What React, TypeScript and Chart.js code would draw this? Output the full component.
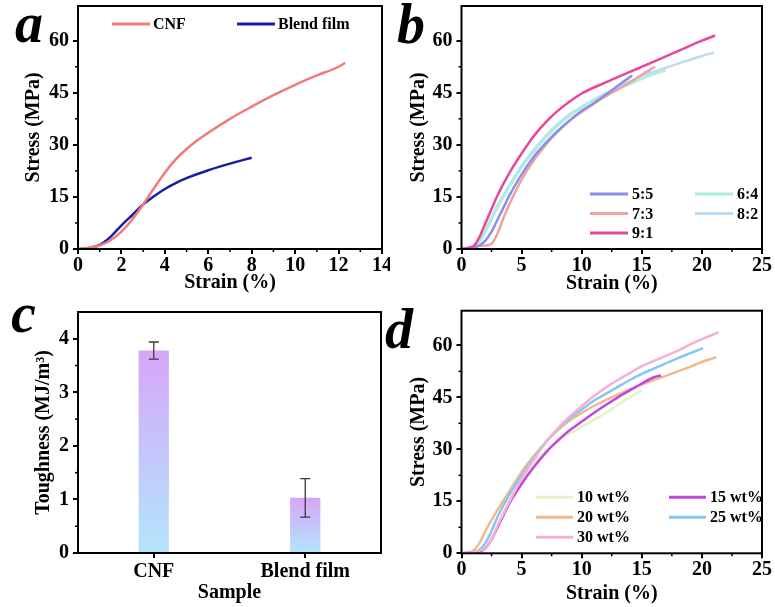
import React, { useEffect, useRef } from "react";
import { Chart, registerables } from "chart.js";

Chart.register(...registerables);

// ---------- DATA ----------
// Panel a: stress-strain (strain %, stress MPa)
const cnfCurve = [[0,0],[0.5,0.4],[1,1],[1.5,2.5],[2,5],[2.5,8.5],[3,12.8],[3.5,17.5],[4,22],[4.5,25.8],[5,28.8],[5.5,31.3],[6,33.5],[7,37.5],[8,41],[9,44.3],[10,47.3],[11,50],[12,52.5],[12.3,53.6]];
const blendCurve = [[0,0],[0.5,0.3],[1,1.2],[1.5,3.5],[2,6.8],[2.5,9.8],[3,12.8],[3.5,15.2],[4,17.3],[4.5,19],[5,20.4],[5.5,21.6],[6,22.7],[7,24.6],[8,26.3]];
const aLabels = ["CNF", "Blend film"];
const aXTicks = [0, 2, 4, 6, 8, 10, 12, 14];
const stressTicks = [0, 15, 30, 45, 60];

// Panel b: ratios
const bLabels = ["5:5", "6:4", "7:3", "8:2", "9:1"];
const r55 = [[0,0],[1,0.3],[1.5,1],[2,2.5],[2.5,5],[3,8.5],[3.5,12],[4,15.5],[5,21.5],[6,26.5],[7,30.5],[8,34],[9,37],[10,39.8],[11,42],[12,44.5],[13,47],[14.2,50]];
const r64 = [[0,0],[1,0.5],[1.5,2],[2,5],[2.5,8.5],[3,12],[4,18],[5,23.5],[6,28],[7,32],[8,35.5],[9,38.3],[10,40.8],[11,42.8],[12,44.5],[13,46],[14,47.5],[15,49],[16,50.3],[17,51.5]];
const r73 = [[0,0],[0.5,0.3],[1,0.8],[2,1],[2.5,1.5],[3,4.5],[3.5,9],[4,13],[5,20],[6,25.5],[7,30],[8,33.8],[9,37],[10,39.5],[11,41.8],[12,44],[13,46],[14,48],[15,50.2],[16.1,52.5]];
const r82 = [[0,0],[1,0.5],[1.5,2.5],[2,5.5],[2.5,9],[3,12.5],[4,18.5],[5,24],[6,28.5],[7,32.5],[8,36],[9,38.8],[10,41],[11,43],[12,44.8],[13,46.5],[14,48.2],[15,49.8],[16,51],[17,52.2],[18,53.4],[19,54.5],[20,55.6],[21,56.6]];
const r91 = [[0,0],[0.5,0.3],[1,0.8],[1.5,3.5],[2,7.5],[2.5,11.5],[3,15.5],[4,22],[5,27.5],[6,32.5],[7,36.5],[8,39.8],[9,42.5],[10,44.8],[12,48],[14,51],[16,54],[18,57],[20,60],[21.1,61.5]];
const strainTicks25 = [0, 5, 10, 15, 20, 25];

// Panel c: toughness
const cCategories = ["CNF", "Blend film"];
const toughness = [3.78, 1.03];
const toughnessErr = [0.16, 0.36];
const toughTicks = [0, 1, 2, 3, 4];

// Panel d: wt%
const dLabels = ["10 wt%", "15 wt%", "20 wt%", "25 wt%", "30 wt%"];
const w10 = [[0,0],[1,0.2],[2,1.5],[2.5,4],[3,8],[4,15],[5,21],[6,26],[7,29.5],[8,32.2],[9,34.5],[10,36.5],[11,38.5],[12,40.5],[13,42.8],[14,45],[15,47]];
const w15 = [[0,0],[1,0.2],[1.5,0.5],[2,1.5],[2.5,4],[3,7.5],[3.5,11],[4,14.5],[5,20],[6,24.8],[7,29],[8,32.5],[9,35.5],[10,38],[11,40.5],[12,42.8],[13,45],[14,47],[15,49],[16,50.8],[16.6,51.3]];
const w20 = [[0,0],[0.5,0.2],[1,0.8],[1.5,3],[2,6.5],[3,12.5],[4,18],[5,23.5],[6,28],[7,32],[8,35.5],[9,38.3],[10,40.5],[11,42.5],[12,44.2],[13,45.8],[14,47.3],[15,48.7],[16,50],[17,51.2],[18,52.5],[19,53.8],[20,55.2],[21.2,56.6]];
const w25 = [[0,0],[1,0.3],[1.5,1],[2,3],[2.5,6.5],[3,10.5],[4,17],[5,22.5],[6,27.5],[7,32],[8,35.8],[9,39],[10,41.5],[11,44],[12,46],[13,48],[14,50],[15,51.8],[16,53.3],[17,54.8],[18,56.3],[19,57.7],[20.1,59.2]];
const w30 = [[0,0],[1,0.3],[1.5,0.8],[2,1.5],[2.5,4],[3,8],[3.5,11.5],[4,15],[5,21.5],[6,27],[7,31.8],[8,36],[9,39.5],[10,42.5],[11,45.3],[12,47.8],[13,50],[14,52],[15,54],[16,55.5],[17,57],[18,58.5],[19,60.2],[20,61.8],[21.4,63.8]];

// ---------- STYLE ----------
const FONT = '"Liberation Serif", "Times New Roman", serif';
const tickFont = { family: FONT, size: 20, weight: "bold" as const };
const titleFont = { family: FONT, size: 20, weight: "bold" as const };

const toXY = (arr: number[][]) => arr.map(([x, y]) => ({ x, y }));

const framePlugin = {
  id: "frame",
  afterDraw(chart: any) {
    const { ctx, chartArea: a } = chart;
    ctx.save();
    ctx.strokeStyle = "#000";
    ctx.lineWidth = 2;
    ctx.strokeRect(a.left, a.top, a.right - a.left, a.bottom - a.top);
    ctx.restore();
  },
};

const minorPlugin = {
  id: "minorTicks",
  afterDraw(chart: any, _args: any, opts: any) {
    const { ctx, chartArea: a, scales } = chart;
    ctx.save();
    ctx.strokeStyle = "#000";
    ctx.lineWidth = 1.5;
    const mids = (t: number[]) => t.slice(1).map((v, i) => (v + t[i]) / 2);
    if (opts.y) {
      mids(opts.y).forEach((v: number) => {
        const p = scales.y.getPixelForValue(v);
        ctx.beginPath();
        ctx.moveTo(a.left, p);
        ctx.lineTo(a.left - 3, p);
        ctx.stroke();
      });
    }
    if (opts.x) {
      mids(opts.x).forEach((v: number) => {
        const p = scales.x.getPixelForValue(v);
        ctx.beginPath();
        ctx.moveTo(p, a.bottom);
        ctx.lineTo(p, a.bottom + 3);
        ctx.stroke();
      });
    }
    ctx.restore();
  },
};

// Legend drawn inside the plot, in the given label order
const legendPlugin = {
  id: "boxLegend",
  afterDraw(chart: any, _args: any, opts: any) {
    if (!opts || !opts.cols) return;
    const ctx = chart.ctx;
    ctx.save();
    ctx.font = `bold 16px ${FONT}`;
    ctx.textBaseline = "middle";
    ctx.textAlign = "left";
    const order: string[] = opts.order || chart.data.datasets.map((d: any) => d.label);
    order.forEach((lab: string, i: number) => {
      const ds = chart.data.datasets.find((d: any) => d.label === lab);
      if (!ds) return;
      const col = i % opts.cols;
      const row = Math.floor(i / opts.cols);
      const x = opts.x + col * opts.colWidth;
      const y = opts.y + row * opts.rowHeight;
      ctx.strokeStyle = ds.borderColor;
      ctx.lineWidth = 3;
      ctx.beginPath();
      ctx.moveTo(x, y);
      ctx.lineTo(x + opts.lineLen, y);
      ctx.stroke();
      ctx.fillStyle = "#000";
      ctx.fillText(lab, x + opts.lineLen + opts.gap, y + 1);
    });
    ctx.restore();
  },
};

const errPlugin = {
  id: "errBars",
  afterDatasetsDraw(chart: any, _args: any, opts: any) {
    if (!opts || !opts.err) return;
    const { ctx, scales } = chart;
    const meta = chart.getDatasetMeta(0);
    const vals = chart.data.datasets[0].data;
    ctx.save();
    ctx.strokeStyle = "#3a3a3a";
    ctx.lineWidth = 1.3;
    meta.data.forEach((bar: any, i: number) => {
      const x = bar.x;
      const hi = scales.y.getPixelForValue(vals[i] + opts.err[i]);
      const lo = scales.y.getPixelForValue(vals[i] - opts.err[i]);
      ctx.beginPath();
      ctx.moveTo(x, hi); ctx.lineTo(x, lo);
      ctx.moveTo(x - 5, hi); ctx.lineTo(x + 5, hi);
      ctx.moveTo(x - 5, lo); ctx.lineTo(x + 5, lo);
      ctx.stroke();
    });
    ctx.restore();
  },
};

function yScale(ticks: number[], max: number, width: number, titleText: string, titlePad: number) {
  return {
    type: "linear" as const,
    min: 0,
    max,
    afterBuildTicks: (s: any) => { s.ticks = ticks.map((v) => ({ value: v })); },
    afterFit: (s: any) => { s.width = width; s.paddingTop = 0; s.paddingBottom = 0; },
    border: { display: false },
    grid: { display: true, drawOnChartArea: false, drawTicks: true, tickLength: 5, color: "#000", lineWidth: 2 },
    ticks: { font: tickFont, color: "#000", padding: 4 },
    title: { display: true, text: titleText, font: titleFont, color: "#000", padding: { top: titlePad, bottom: 0 } },
  };
}

function xLinear(ticks: number[], max: number, height: number, titlePad: number) {
  return {
    type: "linear" as const,
    min: 0,
    max,
    afterBuildTicks: (s: any) => { s.ticks = ticks.map((v) => ({ value: v })); },
    afterFit: (s: any) => { s.height = height; s.paddingLeft = 0; s.paddingRight = 0; },
    border: { display: false },
    grid: { display: true, drawOnChartArea: false, drawTicks: true, tickLength: 5, color: "#000", lineWidth: 2 },
    ticks: { font: tickFont, color: "#000", padding: 0, maxRotation: 0 },
    title: { display: true, text: "Strain (%)", font: titleFont, color: "#000", padding: { top: 0, bottom: titlePad } },
  };
}

function lineDs(label: string, arr: number[][], color: string, width = 2.5) {
  return {
    label,
    data: toXY(arr),
    borderColor: color,
    backgroundColor: color,
    borderWidth: width,
    pointRadius: 0,
    cubicInterpolationMode: "monotone" as const,
    fill: false,
  };
}

const baseOpts = {
  animation: false,
  responsive: true,
  maintainAspectRatio: false,
  events: [],
};

function Panel({ left, top, width, height, config }: any) {
  const ref = useRef<HTMLCanvasElement>(null);
  useEffect(() => {
    if (!ref.current) return;
    const chart = new Chart(ref.current, config());
    return () => chart.destroy();
  }, []);
  return (
    <div style={{ position: "absolute", left, top, width, height }}>
      <canvas ref={ref} />
    </div>
  );
}

const configA = () => ({
  type: "line",
  data: {
    datasets: [
      lineDs(aLabels[0], cnfCurve, "#f07b7b"),
      lineDs(aLabels[1], blendCurve, "#1c1ca6"),
    ],
  },
  options: {
    ...baseOpts,
    layout: { padding: { left: 0, top: 6, right: 8, bottom: 0 } },
    scales: {
      x: xLinear(aXTicks, 14, 51, 5),
      y: yScale(stressTicks, 70, 78, "Stress (MPa)", 22),
    },
    plugins: {
      legend: { display: false },
      tooltip: { enabled: false },
      minorTicks: { x: aXTicks, y: stressTicks },
      boxLegend: { cols: 2, x: 112, y: 24, colWidth: 125, rowHeight: 20, lineLen: 38, gap: 3 },
    },
  },
  plugins: [framePlugin, minorPlugin, legendPlugin],
});

const configB = () => ({
  type: "line",
  data: {
    datasets: [
      lineDs(bLabels[4], r91, "#e8489c"),
      lineDs(bLabels[0], r55, "#8a90ea"),
      lineDs(bLabels[2], r73, "#f2a0a0"),
      lineDs(bLabels[1], r64, "#aaf0dc"),
      lineDs(bLabels[3], r82, "#bcdcf2"),
    ],
  },
  options: {
    ...baseOpts,
    layout: { padding: { left: 0, top: 6, right: 13, bottom: 0 } },
    scales: {
      x: xLinear(strainTicks25, 25, 51, 4),
      y: yScale(stressTicks, 70, 71.5, "Stress (MPa)", 16.5),
    },
    plugins: {
      legend: { display: false },
      tooltip: { enabled: false },
      minorTicks: { x: strainTicks25, y: stressTicks },
      boxLegend: { cols: 2, x: 200, y: 194, colWidth: 105, rowHeight: 19.5, lineLen: 38, gap: 4, order: bLabels },
    },
  },
  plugins: [framePlugin, minorPlugin, legendPlugin],
});

const configC = () => ({
  type: "bar",
  data: {
    labels: cCategories,
    datasets: [
      {
        label: "Toughness",
        data: toughness,
        barPercentage: 0.2,
        categoryPercentage: 1,
        borderWidth: 0,
        backgroundColor: (ctx: any) => {
          const chart = ctx.chart;
          const { chartArea, scales } = chart;
          if (!chartArea || ctx.type !== "data" || !scales.y) return "#c8c0fa";
          const t = scales.y.getPixelForValue(ctx.parsed.y);
          const b = scales.y.getPixelForValue(0);
          const g = chart.ctx.createLinearGradient(0, t, 0, b);
          g.addColorStop(0, "#d6a6f9");
          g.addColorStop(1, "#b3e5fc");
          return g;
        },
      },
    ],
  },
  options: {
    ...baseOpts,
    layout: { padding: { left: 0, top: 12, right: 9, bottom: 0 } },
    scales: {
      x: {
        type: "category",
        afterFit: (s: any) => { s.height = 54; s.paddingLeft = 0; s.paddingRight = 0; },
        border: { display: false },
        grid: { display: true, drawOnChartArea: false, drawTicks: true, tickLength: 5, color: "#000", lineWidth: 2, offset: false },
        ticks: { font: tickFont, color: "#000", padding: 2, maxRotation: 0 },
        title: { display: true, text: "Sample", font: titleFont, color: "#000", padding: { top: 0, bottom: 2 } },
      },
      y: yScale(toughTicks, 4.5, 78, "Toughness (MJ/m³)", 32),
    },
    plugins: {
      legend: { display: false },
      tooltip: { enabled: false },
      minorTicks: { y: toughTicks },
      errBars: { err: toughnessErr },
    },
  },
  plugins: [framePlugin, minorPlugin, errPlugin],
});

const configD = () => ({
  type: "line",
  data: {
    datasets: [
      lineDs(dLabels[4], w30, "#f5b0d8"),
      lineDs(dLabels[3], w25, "#84c8f0"),
      lineDs(dLabels[1], w15, "#c444e2"),
      lineDs(dLabels[2], w20, "#f2b88e"),
      lineDs(dLabels[0], w10, "#e2f4c4"),
    ],
  },
  options: {
    ...baseOpts,
    layout: { padding: { left: 0, top: 10.7, right: 13, bottom: 0 } },
    scales: {
      x: xLinear(strainTicks25, 25, 53.7, 1.5),
      y: yScale(stressTicks, 70, 71.5, "Stress (MPa)", 17),
    },
    plugins: {
      legend: { display: false },
      tooltip: { enabled: false },
      minorTicks: { x: strainTicks25, y: stressTicks },
      boxLegend: { cols: 2, x: 146, y: 197.3, colWidth: 133, rowHeight: 20, lineLen: 37, gap: 4, order: dLabels },
    },
  },
  plugins: [framePlugin, minorPlugin, legendPlugin],
});

const letterStyle = (left: number, top: number): React.CSSProperties => ({
  position: "absolute",
  left,
  top,
  fontFamily: FONT,
  fontWeight: "bold",
  fontStyle: "italic",
  fontSize: 56,
  lineHeight: "56px",
  color: "#000",
});

export default function App() {
  return (
    <div style={{ position: "fixed", left: 0, top: 0, width: 775, height: 607, background: "#fff", overflow: "hidden" }}>
      <Panel left={0} top={0} width={390} height={300} config={configA} />
      <Panel left={390} top={0} width={385} height={300} config={configB} />
      <Panel left={0} top={300} width={390} height={307} config={configC} />
      <Panel left={390} top={300} width={385} height={307} config={configD} />
      <div style={letterStyle(15, -5)}>a</div>
      <div style={letterStyle(397, -4)}>b</div>
      <div style={letterStyle(11, 285)}>c</div>
      <div style={letterStyle(385, 301)}>d</div>
    </div>
  );
}
